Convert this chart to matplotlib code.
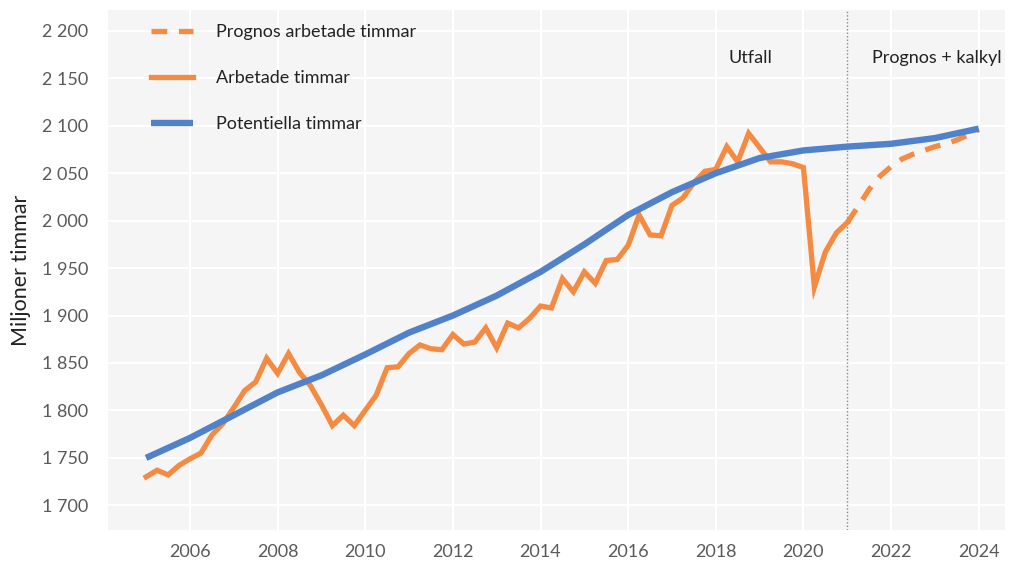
import numpy as np
import matplotlib.pyplot as plt
from matplotlib.ticker import FuncFormatter

plt.rcParams['font.family'] = ['Lato', 'DejaVu Sans']

# Arbetade timmar, kvartal 2005K1 - 2021K1 (miljoner)
arbetade = [1730, 1737, 1732, 1742,
            1749, 1755, 1774, 1786,
            1803, 1821, 1830, 1855,
            1839, 1860, 1840, 1826,
            1806, 1784, 1795, 1784,
            1800, 1816, 1845, 1846,
            1860, 1869, 1865, 1864,
            1880, 1870, 1872, 1887,
            1866, 1892, 1887, 1897,
            1910, 1908, 1939, 1925,
            1946, 1934, 1958, 1959,
            1974, 2006, 1985, 1984,
            2016, 2024, 2040, 2052,
            2054, 2078, 2062, 2092,
            2077, 2062, 2062, 2060,
            2056, 1930, 1967, 1987,
            1998]
# Prognos, kvartal 2021K1 - 2024K1
prognos = [1998, 2015, 2033, 2047,
           2057, 2065, 2070, 2074,
           2078, 2081, 2085, 2090,
           2096]
# Potentiella timmar, per år 2005 - 2024
pot_ar = list(range(2005, 2025))
potentiella = [1750, 1771, 1795, 1819, 1837, 1859, 1882, 1900, 1921, 1946,
               1975, 2006, 2030, 2050, 2066, 2074, 2078, 2081, 2087, 2097]

t_arb = 2005 + np.arange(len(arbetade)) / 4
t_prog = 2021 + np.arange(len(prognos)) / 4

orange = '#f58a42'
blue = '#5182c9'

fig = plt.figure(figsize=(10.13, 5.63), dpi=100)
ax = fig.add_axes([108/1013, 1-530/563, (1005-108)/1013, (530-10)/563])
ax.set_facecolor('#f5f5f5')

ax.plot(t_prog, prognos, color=orange, lw=3.8, dashes=(3, 2.2),
        label='Prognos arbetade timmar', solid_capstyle='butt')
ax.plot(t_arb, arbetade, color=orange, lw=3.8, label='Arbetade timmar',
        solid_joinstyle='miter')
ax.plot(pot_ar, potentiella, color=blue, lw=4.6, label='Potentiella timmar',
        solid_capstyle='butt')

ax.axvline(2021, color='#888888', lw=1, ls=(0, (1, 1.5)), zorder=1)
ax.text(2018.8, 2171, 'Utfall', fontsize=13, color='#222222', ha='center', va='center')
ax.text(2023.05, 2171, 'Prognos + kalkyl', fontsize=13, color='#222222', ha='center', va='center')

ax.set_xlim(2004.13, 2024.6)
ax.set_ylim(1674, 2222)
ax.set_xticks(range(2006, 2025, 2))
ax.set_yticks(range(1700, 2201, 50))
ax.yaxis.set_major_formatter(FuncFormatter(lambda v, p: f'{int(v):,}'.replace(',', ' ')))
ax.grid(True, color='white', lw=1.5)
ax.set_axisbelow(True)
for s in ax.spines.values():
    s.set_visible(False)
ax.tick_params(length=0, labelsize=13, colors='#5a5a5a', pad=10)
ax.tick_params(axis='y', pad=14)
ax.set_ylabel('Miljoner timmar', fontsize=15.5, color='#222222', labelpad=8)

leg = ax.legend(loc='upper left', bbox_to_anchor=(0.03, 1.004), frameon=False,
                fontsize=13, labelspacing=1.66, handlelength=2.3,
                handletextpad=1.3)
for txt in leg.get_texts():
    txt.set_color('#222222')

plt.savefig('out.png', dpi=100, facecolor='white')
